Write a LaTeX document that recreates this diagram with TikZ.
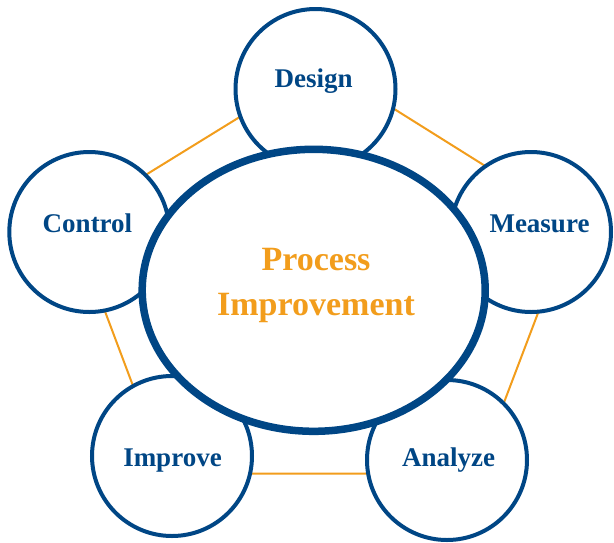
\documentclass[tikz,border=0pt]{standalone}
\usepackage{fontspec}
\setmainfont{Liberation Serif}
\usetikzlibrary{shapes.geometric}
\definecolor{navy}{RGB}{0,70,133}
\definecolor{amber}{RGB}{242,157,28}

\begin{document}
\begin{tikzpicture}[x=1pt, y=-1pt,
    stage/.style={circle, draw=navy, line width=4pt, fill=white, minimum size=160pt, inner sep=0pt},
    stagelabel/.style={anchor=base, text=navy, inner sep=0pt, font=\fontsize{27}{32}\selectfont\bfseries},
    edge/.style={amber, line width=2pt}]
    \useasboundingbox (0,0) rectangle (614,542);

    % Pentagon behind the stages
    \coordinate (p1) at (324,65);
    \coordinate (p2) at (573,221);
    \coordinate (p3) at (477,473.5);
    \coordinate (p4) at (166,473.5);
    \coordinate (p5) at (71,221);
    \draw[edge] (p1) -- (p2) -- (p3) -- (p4) -- (p5) -- cycle;

    % Stages
    \node[stage] (design) at (315.5,89) {};
    \node[stage] (measure) at (531,232) {};
    \node[stage] (analyze) at (447,460) {};
    \node[stage] (improve) at (172,456) {};
    \node[stage] (control) at (89.3,232) {};

    % Centre ellipse
    \node[ellipse, draw=navy, line width=7.5pt, fill=white, minimum width=343pt, minimum height=282pt, inner sep=0pt] (core) at (313.7,290.3) {};

    % Labels
    \node[stagelabel] (design-lbl) at (313.7,87.3) {Design};
    \node[stagelabel] (measure-lbl) at (539.5,232.7) {Measure};
    \node[stagelabel] (analyze-lbl) at (448.5,466) {Analyze};
    \node[stagelabel] (improve-lbl) at (172.5,466.7) {Improve};
    \node[stagelabel] (control-lbl) at (87.5,232.7) {Control};
    \node[text=amber, align=center, inner sep=0pt, font=\fontsize{34}{45}\selectfont\bfseries] (core-lbl) at (316,285.2) {Process\\Improvement};
\end{tikzpicture}
\end{document}
